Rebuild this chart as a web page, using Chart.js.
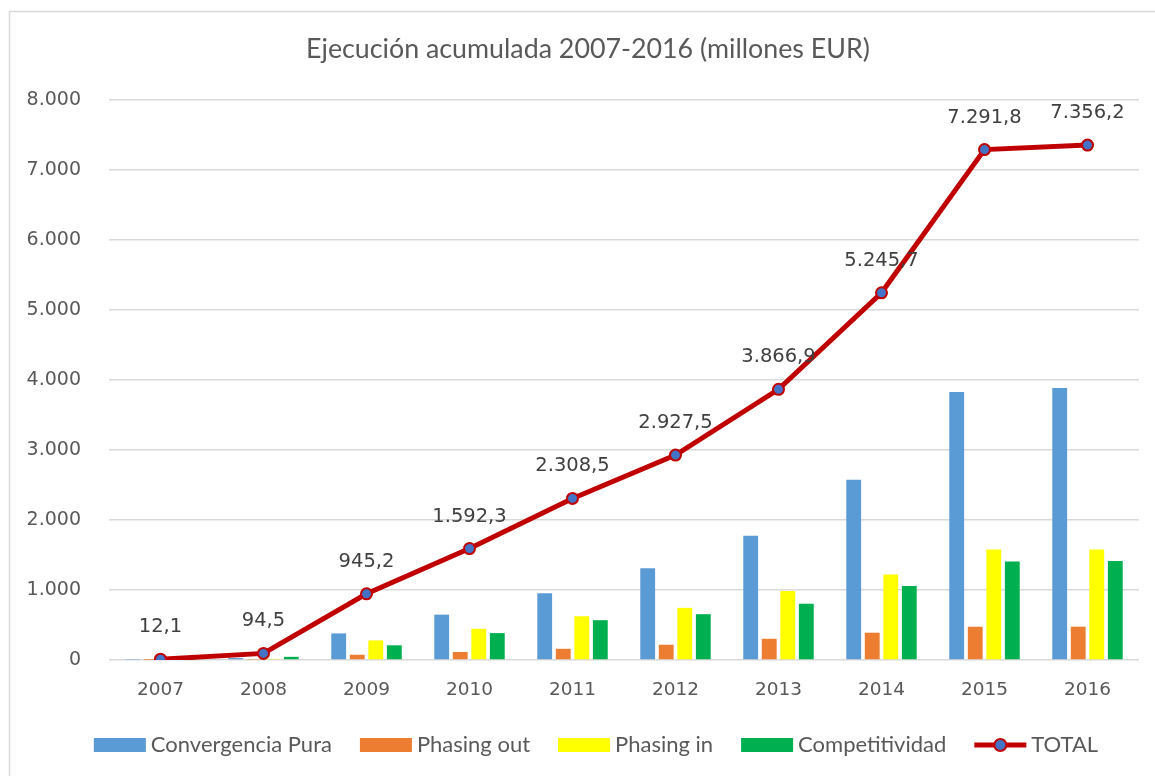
<!DOCTYPE html>
<html>
<head>
<meta charset="utf-8">
<script src="https://cdn.jsdelivr.net/npm/chart.js@4/dist/chart.umd.min.js"></script>
<style>
  html, body { margin: 0; padding: 0; background: #ffffff; }
  #wrap { position: relative; width: 1155px; height: 776px; overflow: hidden; }
  canvas { display: block; }
</style>
</head>
<body>
<div id="wrap"><canvas id="c" width="1155" height="776"></canvas></div>
<script>
const categories = ['2007', '2008', '2009', '2010', '2011', '2012', '2013', '2014', '2015', '2016'];
const convergenciaPura = [6, 28, 380, 648, 955, 1310, 1775, 2575, 3830, 3885];
const phasingOut = [1, 6, 75, 115, 160, 218, 303, 390, 475, 476];
const phasingIn = [2, 15.5, 280, 445, 625, 745, 985, 1222, 1580, 1580];
const competitividad = [3.1, 45, 210.2, 384.3, 568.5, 654.5, 803.9, 1058.7, 1406.8, 1415.2];
const total = [12.1, 94.5, 945.2, 1592.3, 2308.5, 2927.5, 3866.9, 5245.7, 7291.8, 7356.2];
const yTicks = [0, 1000, 2000, 3000, 4000, 5000, 6000, 7000, 8000];
const titleText = 'Ejecución acumulada 2007-2016 (millones EUR)';

function fmt(v, dec) {
  const parts = Number(v).toFixed(dec).split('.');
  parts[0] = parts[0].replace(/\B(?=(\d{3})+(?!\d))/g, '.');
  return dec ? parts[0] + ',' + parts[1] : parts[0];
}

const COLORS = {
  conv: '#5b9bd5', out: '#ed7d31', inn: '#ffff00', comp: '#00b050',
  line: '#c00000', point: '#4472c4', text: '#595959', label: '#404040', grid: '#d9d9d9'
};

const framePlugin = {
  id: 'frame',
  beforeDraw(chart) {
    const ctx = chart.ctx;
    ctx.save();
    ctx.fillStyle = '#ffffff';
    ctx.fillRect(0, 0, chart.width, chart.height);
    ctx.strokeStyle = COLORS.grid;
    ctx.lineWidth = 1.5;
    ctx.strokeRect(9.5, 11.5, 1200, 800);
    ctx.font = '26.8px Lato';
    ctx.fillStyle = COLORS.text;
    ctx.textAlign = 'center';
    ctx.textBaseline = 'middle';
    ctx.fillText(titleText, 588, 49);
    ctx.restore();
  }
};

const labelPlugin = {
  id: 'totalLabels',
  afterDatasetsDraw(chart) {
    const ctx = chart.ctx;
    const meta = chart.getDatasetMeta(0);
    ctx.save();
    ctx.font = '19.5px "DejaVu Sans"';
    ctx.fillStyle = COLORS.label;
    ctx.textAlign = 'center';
    ctx.textBaseline = 'middle';
    meta.data.forEach((pt, i) => {
      ctx.fillText(fmt(total[i], 1), pt.x, pt.y - 32);
    });
    ctx.restore();
  }
};

const legendPlugin = {
  id: 'customLegend',
  afterDraw(chart) {
    const ctx = chart.ctx;
    const items = [
      { text: 'Convergencia Pura', color: COLORS.conv },
      { text: 'Phasing out', color: COLORS.out },
      { text: 'Phasing in', color: COLORS.inn },
      { text: 'Competitividad', color: COLORS.comp },
      { text: 'TOTAL', line: true }
    ];
    const boxW = 52, boxH = 14, gapBT = 5, gapItem = 28, yc = 745;
    ctx.save();
    ctx.font = '22px Lato';
    const widths = items.map(it => boxW + gapBT + ctx.measureText(it.text).width);
    const totalW = widths.reduce((a, b) => a + b, 0) + gapItem * (items.length - 1);
    let x = 596 - totalW / 2;
    items.forEach((it, i) => {
      if (it.line) {
        ctx.strokeStyle = COLORS.line;
        ctx.lineWidth = 5;
        ctx.beginPath();
        ctx.moveTo(x, yc);
        ctx.lineTo(x + boxW, yc);
        ctx.stroke();
        ctx.beginPath();
        ctx.arc(x + boxW / 2, yc, 6, 0, Math.PI * 2);
        ctx.fillStyle = COLORS.point;
        ctx.fill();
        ctx.lineWidth = 2;
        ctx.stroke();
      } else {
        ctx.fillStyle = it.color;
        ctx.fillRect(x, yc - boxH / 2, boxW, boxH);
      }
      ctx.fillStyle = COLORS.text;
      ctx.textAlign = 'left';
      ctx.textBaseline = 'middle';
      ctx.fillText(it.text, x + boxW + gapBT, yc);
      x += widths[i] + gapItem;
    });
    ctx.restore();
  }
};

const barCommon = { order: 1, categoryPercentage: 0.72, barPercentage: 0.8 };

new Chart(document.getElementById('c'), {
  type: 'bar',
  data: {
    labels: categories,
    datasets: [
      {
        type: 'line', label: 'TOTAL', data: total, order: 0,
        borderColor: COLORS.line, borderWidth: 5, tension: 0,
        pointRadius: 5.5, pointBackgroundColor: COLORS.point,
        pointBorderColor: COLORS.line, pointBorderWidth: 2, fill: false
      },
      Object.assign({ label: 'Convergencia Pura', data: convergenciaPura, backgroundColor: COLORS.conv }, barCommon),
      Object.assign({ label: 'Phasing out', data: phasingOut, backgroundColor: COLORS.out }, barCommon),
      Object.assign({ label: 'Phasing in', data: phasingIn, backgroundColor: COLORS.inn }, barCommon),
      Object.assign({ label: 'Competitividad', data: competitividad, backgroundColor: COLORS.comp }, barCommon)
    ]
  },
  options: {
    responsive: false,
    devicePixelRatio: 1,
    animation: false,
    layout: { padding: { left: 0, right: 16, top: 100, bottom: 0 } },
    plugins: {
      legend: { display: false },
      tooltip: { enabled: false },
      title: { display: false }
    },
    scales: {
      x: {
        grid: { display: false, drawTicks: false },
        border: { display: false },
        ticks: { color: COLORS.text, font: { family: 'DejaVu Sans', size: 18.5 }, padding: 19 },
        afterFit(scale) { scale.height = 116; }
      },
      y: {
        min: 0,
        max: 8000,
        afterBuildTicks(scale) { scale.ticks = yTicks.map(v => ({ value: v })); },
        grid: { color: COLORS.grid, lineWidth: 1.5, drawTicks: false },
        border: { display: false },
        ticks: {
          color: COLORS.text,
          font: { family: 'DejaVu Sans', size: 19 },
          padding: 28,
          callback: (v) => fmt(v, 0)
        },
        afterFit(scale) { scale.width = 109; }
      }
    }
  },
  plugins: [framePlugin, labelPlugin, legendPlugin]
});
</script>
</body>
</html>
